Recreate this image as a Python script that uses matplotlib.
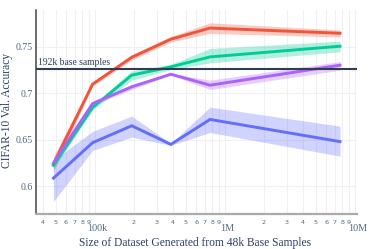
import matplotlib
matplotlib.use("Agg")
import matplotlib.pyplot as plt
from matplotlib.ticker import FixedLocator, FixedFormatter
from matplotlib.transforms import ScaledTranslation

# ---- data ----
sizes = [48000, 96000, 192000, 384000, 768000, 7680000]

blue_mean = [0.6087, 0.6468, 0.6650, 0.6450, 0.6718, 0.6480]
blue_lo   = [0.5837, 0.6385, 0.6528, 0.6440, 0.6578, 0.6324]
blue_hi   = [0.6280, 0.6590, 0.6754, 0.6460, 0.6850, 0.6646]

red_mean = [0.6240, 0.7097, 0.7385, 0.7580, 0.7700, 0.7644]
red_lo   = [0.6160, 0.7075, 0.7355, 0.7550, 0.7642, 0.7605]
red_hi   = [0.6320, 0.7120, 0.7415, 0.7610, 0.7756, 0.7680]

green_mean = [0.6225, 0.6846, 0.7194, 0.7283, 0.7390, 0.7505]
green_lo   = [0.6185, 0.6820, 0.7140, 0.7255, 0.7326, 0.7445]
green_hi   = [0.6265, 0.6870, 0.7240, 0.7310, 0.7480, 0.7560]

purple_mean = [0.6250, 0.6889, 0.7068, 0.7204, 0.7086, 0.7301]
purple_lo   = [0.6220, 0.6870, 0.7040, 0.7195, 0.7040, 0.7247]
purple_hi   = [0.6280, 0.6910, 0.7096, 0.7213, 0.7140, 0.7340]

baseline_value = 0.7255
baseline_label = "192k base samples"

y_ticks = [0.6, 0.65, 0.7, 0.75]
y_tick_labels = ["0.6", "0.65", "0.7", "0.75"]
x_major = [1e5, 1e6, 1e7]
x_major_labels = ["100k", "1M", "10M"]
x_minor = [4e4, 5e4, 6e4, 7e4, 8e4, 9e4,
           2e5, 3e5, 4e5, 5e5, 6e5, 7e5, 8e5, 9e5,
           2e6, 3e6, 4e6, 5e6, 6e6, 7e6, 8e6, 9e6]
x_minor_labels = ["4", "5", "6", "7", "8", "9",
                  "2", "3", "4", "5", "6", "7", "8", "9",
                  "2", "3", "4", "5", "6", "7", "8", "9"]

x_title = "Size of Dataset Generated from 48k Base Samples"
y_title = "CIFAR-10 Val. Accuracy"

series = [
    (blue_mean, blue_lo, blue_hi, "#636EFA"),
    (red_mean, red_lo, red_hi, "#EF553B"),
    (green_mean, green_lo, green_hi, "#00CC96"),
    (purple_mean, purple_lo, purple_hi, "#AB63FA"),
]

# ---- figure ----
fig = plt.figure(figsize=(3.73, 2.49), dpi=100)
ax = fig.add_axes([36/373, 1 - 214/249, (357 - 36)/373, (214 - 10)/249])

text_color = "#2a3f5f"
tick_color = "#506784"
serif = ["Liberation Serif", "DejaVu Serif"]

for mean, lo, hi, c in series:
    ax.fill_between(sizes, lo, hi, color=c, alpha=0.3, linewidth=0, zorder=2)
    ax.plot(sizes, mean, color=c, linewidth=2.1, zorder=3, solid_joinstyle="miter")

ax.axhline(baseline_value, color="#2f3d52", linewidth=1.5, zorder=5)
ax.annotate(baseline_label, xy=(0, baseline_value), xycoords=("axes fraction", "data"),
            xytext=(1.5, 2), textcoords="offset points", ha="left", va="bottom",
            fontsize=6.9, family=serif, color="#2a3f5f", zorder=6)

ax.set_xscale("log")
ax.set_xlim(10**4.547, 10**7.016)
ax.set_ylim(0.5702, 0.7894)

ax.xaxis.set_major_locator(FixedLocator(x_major))
ax.xaxis.set_major_formatter(FixedFormatter(x_major_labels))
ax.xaxis.set_minor_locator(FixedLocator(x_minor))
ax.xaxis.set_minor_formatter(FixedFormatter(x_minor_labels))
ax.set_yticks(y_ticks)
ax.set_yticklabels(y_tick_labels)

ax.tick_params(axis="x", which="major", length=0, pad=7.5, labelsize=7.3, labelcolor=tick_color)
ax.tick_params(axis="x", which="minor", length=0, pad=4.5, labelsize=4.6, labelcolor=tick_color)
ax.tick_params(axis="y", which="major", length=0, pad=2.2, labelsize=7.1, labelcolor=tick_color)

for lab in ax.get_xticklabels():
    lab.set_family(serif)
    lab.set_transform(lab.get_transform() + ScaledTranslation(2.7/100, 0, fig.dpi_scale_trans))
for lab in ax.get_xticklabels(minor=True):
    lab.set_family(["DejaVu Sans"])
for lab in ax.get_yticklabels():
    lab.set_family(serif)

ax.grid(True, which="both", axis="x", color="#f0f0f4", linewidth=0.8, zorder=0)
ax.grid(True, which="major", axis="y", color="#f0f0f4", linewidth=0.8, zorder=0)
ax.set_axisbelow(True)

for s in ["top", "right"]:
    ax.spines[s].set_visible(False)
ax.spines["left"].set_color("#444444")
ax.spines["left"].set_linewidth(1.1)
ax.spines["bottom"].set_color("#aaaaaa")
ax.spines["bottom"].set_linewidth(1.6)

fig.text(195/373, 1 - 242.5/249, x_title, ha="center", va="center",
         fontsize=8.3, family=serif, color=text_color)
fig.text(7.5/373, 1 - 110/249, y_title, ha="center", va="center", rotation=90,
         fontsize=8.3, family=serif, color=text_color)

fig.savefig("out.png", dpi=100)
